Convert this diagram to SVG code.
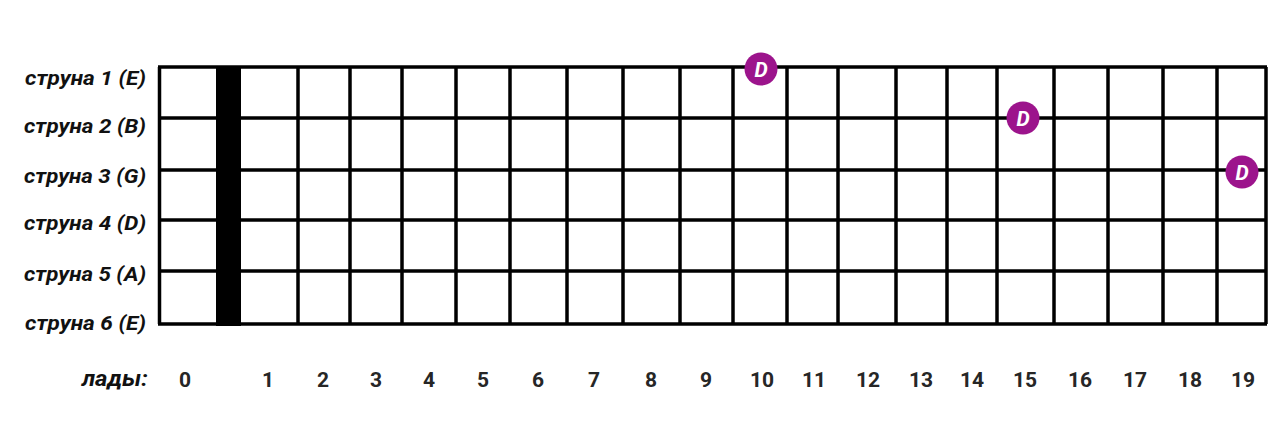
<svg xmlns="http://www.w3.org/2000/svg" width="1280" height="425" viewBox="0 0 1280 425">
<style>
.ln{stroke:#000;stroke-width:3.5;fill:none}
.lbl{font-family:Roboto,"Liberation Sans",sans-serif;font-weight:bold;font-style:italic;font-size:20.5px;fill:#111;text-anchor:end}
.num{font-family:Roboto,"Liberation Sans",sans-serif;font-weight:bold;font-size:21px;fill:#262626;text-anchor:middle}
.mk{fill:#9c148c}
.mt{font-family:Roboto,"Liberation Sans",sans-serif;font-weight:bold;font-style:italic;font-size:21px;fill:#fff;text-anchor:middle}
</style>
<rect width="1280" height="425" fill="#fff"/>
<g id="labels">
<text class="lbl" x="146" y="85" textLength="121" lengthAdjust="spacingAndGlyphs">струна 1 (E)</text>
<text class="lbl" x="146" y="133" textLength="122" lengthAdjust="spacingAndGlyphs">струна 2 (B)</text>
<text class="lbl" x="146" y="183" textLength="122" lengthAdjust="spacingAndGlyphs">струна 3 (G)</text>
<text class="lbl" x="146" y="230" textLength="122" lengthAdjust="spacingAndGlyphs">струна 4 (D)</text>
<text class="lbl" x="146" y="281" textLength="122" lengthAdjust="spacingAndGlyphs">струна 5 (A)</text>
<text class="lbl" x="146" y="330" textLength="121" lengthAdjust="spacingAndGlyphs">струна 6 (E)</text>
</g>
<g id="strings">
<line class="ln" x1="158" y1="67" x2="1267" y2="67"/>
<line class="ln" x1="158" y1="118" x2="1267" y2="118"/>
<line class="ln" x1="158" y1="170" x2="1267" y2="170"/>
<line class="ln" x1="158" y1="220" x2="1267" y2="220"/>
<line class="ln" x1="158" y1="271" x2="1267" y2="271"/>
<line class="ln" x1="158" y1="324" x2="1267" y2="324"/>
</g>
<g id="frets">
<line class="ln" x1="159.5" y1="67" x2="159.5" y2="324"/>
<line class="ln" x1="298" y1="67" x2="298" y2="324"/>
<line class="ln" x1="350" y1="67" x2="350" y2="324"/>
<line class="ln" x1="402" y1="67" x2="402" y2="324"/>
<line class="ln" x1="456" y1="67" x2="456" y2="324"/>
<line class="ln" x1="510" y1="67" x2="510" y2="324"/>
<line class="ln" x1="567" y1="67" x2="567" y2="324"/>
<line class="ln" x1="623" y1="67" x2="623" y2="324"/>
<line class="ln" x1="680" y1="67" x2="680" y2="324"/>
<line class="ln" x1="733" y1="67" x2="733" y2="324"/>
<line class="ln" x1="787" y1="67" x2="787" y2="324"/>
<line class="ln" x1="838" y1="67" x2="838" y2="324"/>
<line class="ln" x1="896" y1="67" x2="896" y2="324"/>
<line class="ln" x1="947" y1="67" x2="947" y2="324"/>
<line class="ln" x1="997" y1="67" x2="997" y2="324"/>
<line class="ln" x1="1054" y1="67" x2="1054" y2="324"/>
<line class="ln" x1="1108" y1="67" x2="1108" y2="324"/>
<line class="ln" x1="1163" y1="67" x2="1163" y2="324"/>
<line class="ln" x1="1217" y1="67" x2="1217" y2="324"/>
<line class="ln" x1="1266" y1="67" x2="1266" y2="324"/>
</g>
<g id="nut">
<rect x="216" y="66" width="25" height="260" fill="#000"/>
</g>
<g id="markers">
<g id="m1"><circle class="mk" cx="761" cy="69" r="16.5"/><text class="mt" x="761" y="76.5">D</text></g>
<g id="m2"><circle class="mk" cx="1023" cy="118" r="16.5"/><text class="mt" x="1023" y="125.5">D</text></g>
<g id="m3"><circle class="mk" cx="1242" cy="172" r="16.5"/><text class="mt" x="1242" y="179.5">D</text></g>
</g>
<g id="fretnums">
<text class="lbl" x="148" y="386" style="font-size:22px" textLength="66" lengthAdjust="spacingAndGlyphs">лады:</text>
<text class="num" x="185" y="387">0</text>
<text class="num" x="268" y="387">1</text>
<text class="num" x="323" y="387">2</text>
<text class="num" x="376" y="387">3</text>
<text class="num" x="429" y="387">4</text>
<text class="num" x="483" y="387">5</text>
<text class="num" x="538" y="387">6</text>
<text class="num" x="594" y="387">7</text>
<text class="num" x="651" y="387">8</text>
<text class="num" x="706" y="387">9</text>
<text class="num" x="762" y="387">10</text>
<text class="num" x="814" y="387">11</text>
<text class="num" x="868" y="387">12</text>
<text class="num" x="921" y="387">13</text>
<text class="num" x="972" y="387">14</text>
<text class="num" x="1025" y="387">15</text>
<text class="num" x="1080" y="387">16</text>
<text class="num" x="1135" y="387">17</text>
<text class="num" x="1190" y="387">18</text>
<text class="num" x="1243" y="387">19</text>
</g>
</svg>
